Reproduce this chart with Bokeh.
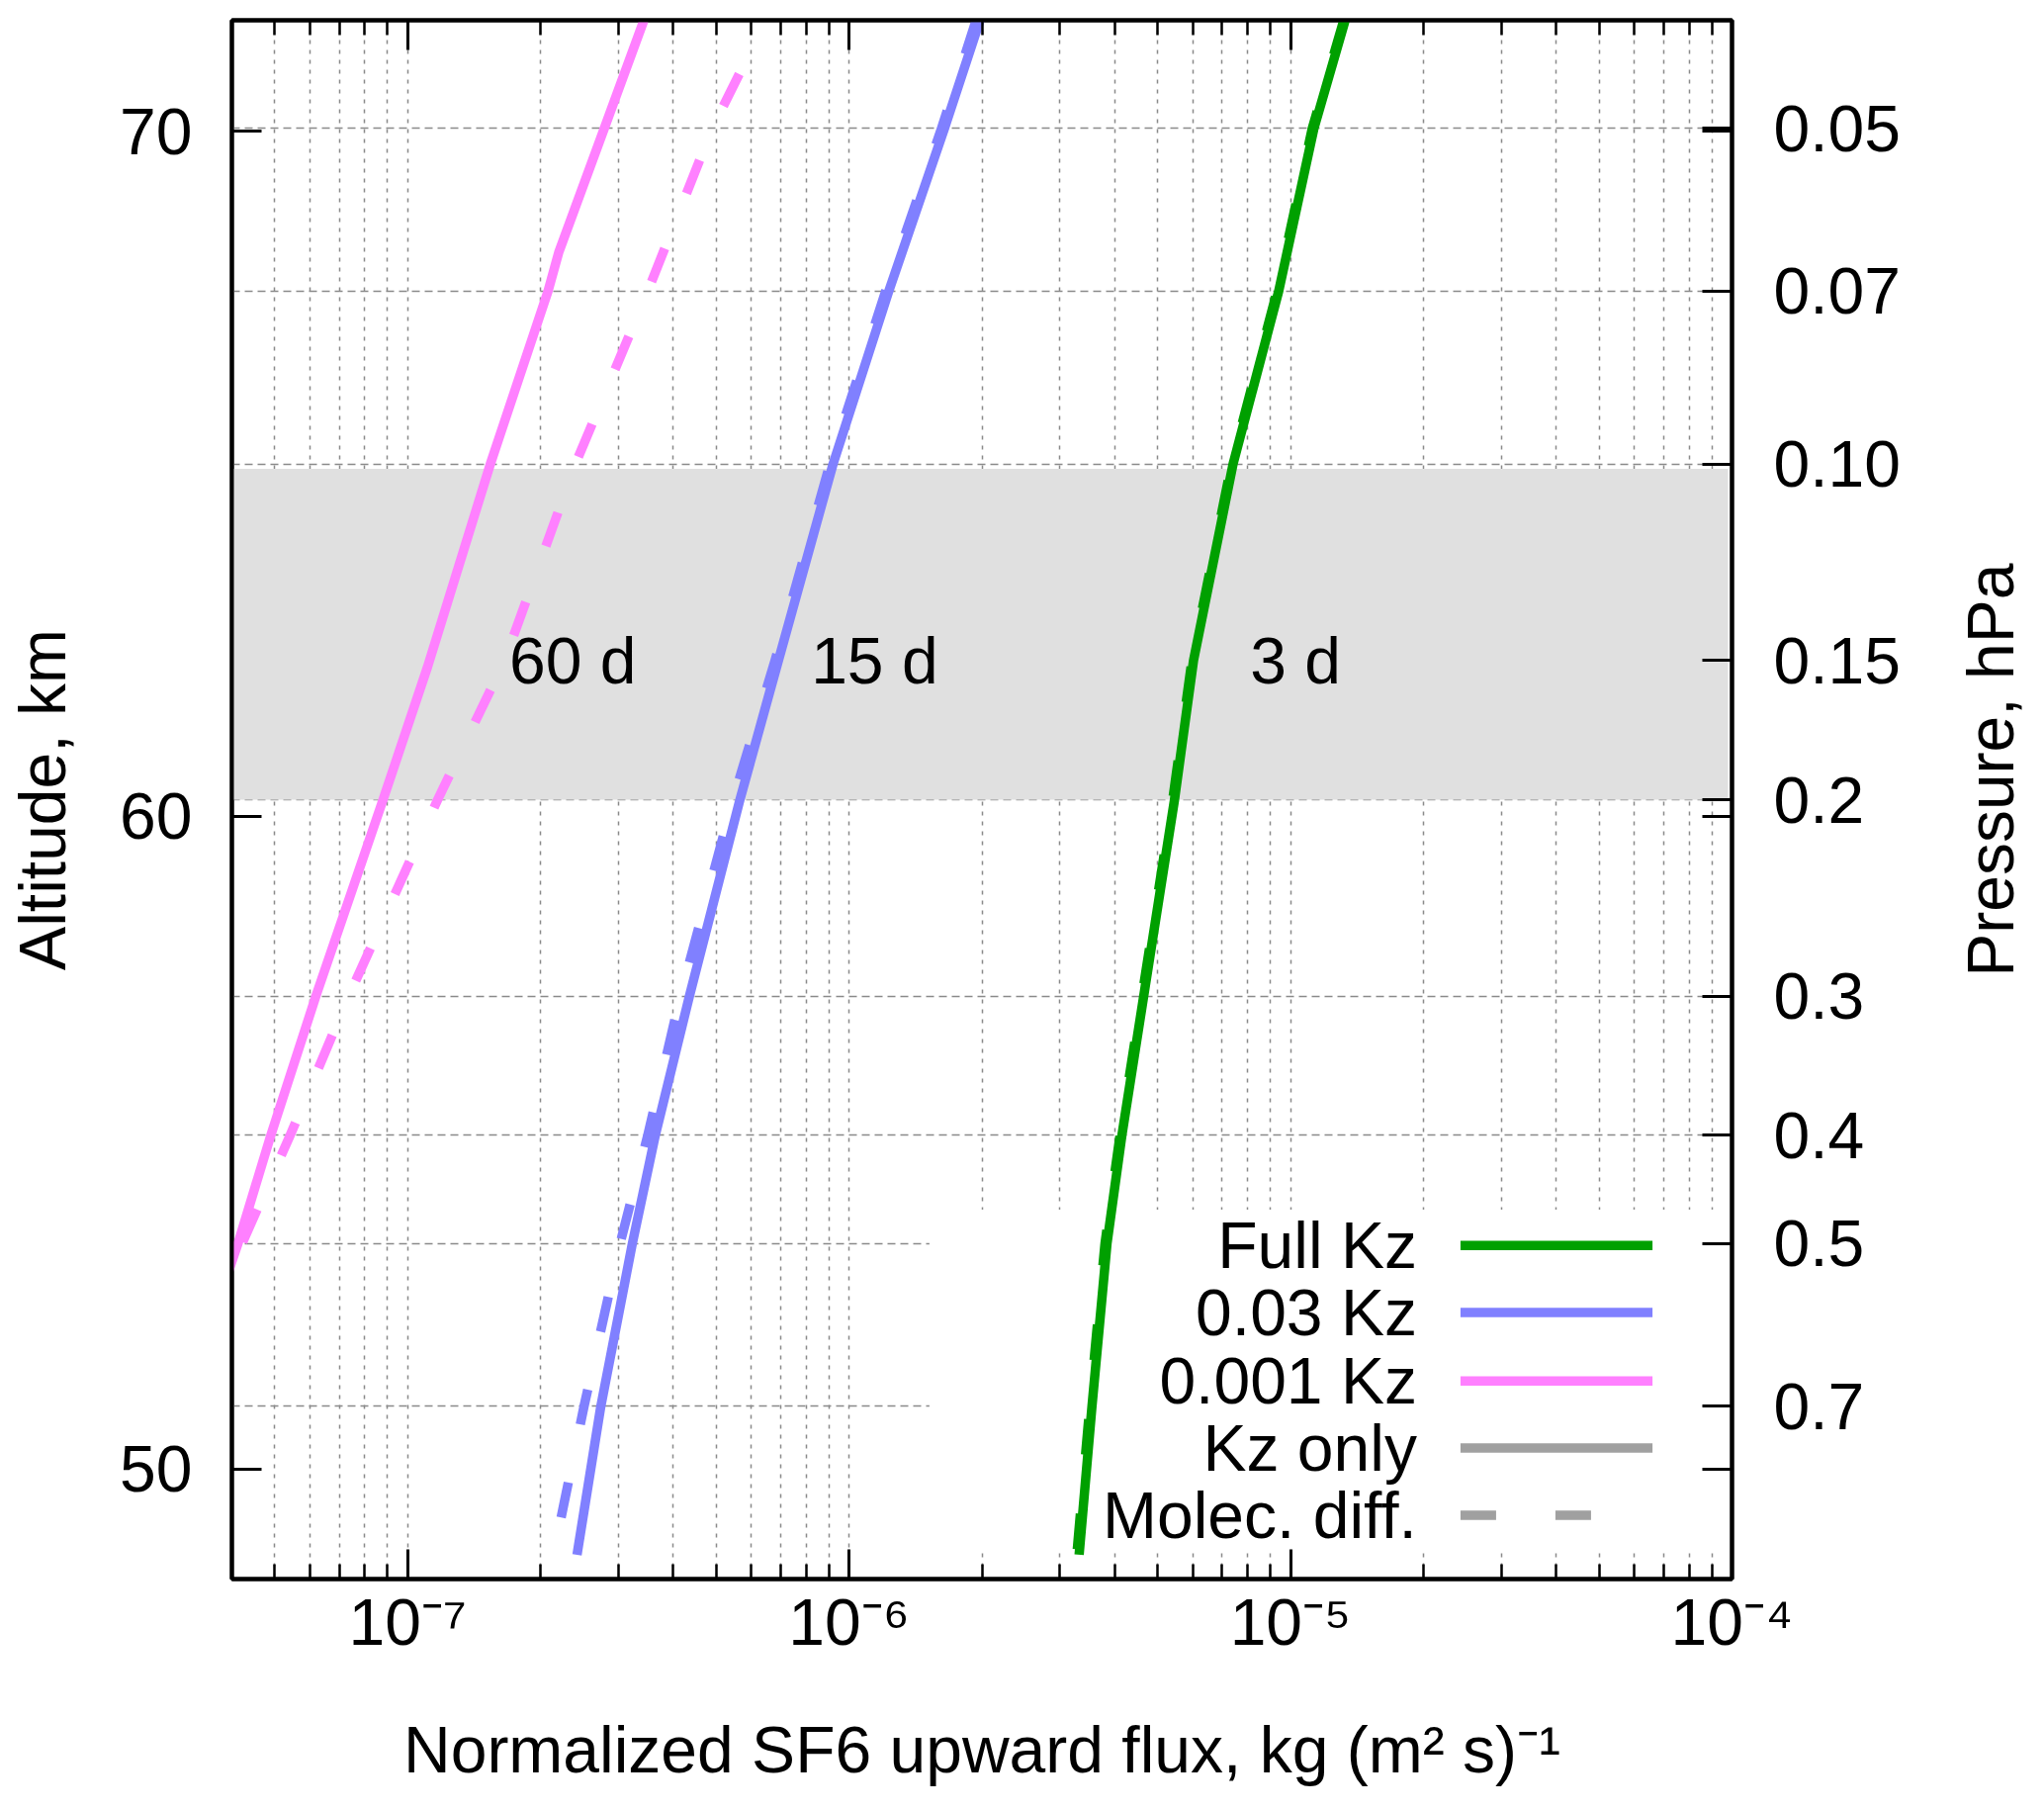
import math
from bokeh.plotting import figure
from bokeh.layouts import row
from bokeh.models import FixedTicker, LogAxis, Range1d, CustomJSTickFormatter
from bokeh.embed import file_html
from bokeh.resources import INLINE
from bokeh.core.properties import value

# ---------------- data ----------------
flux_ticks = [1e-7, 1e-6, 1e-5, 1e-4]
flux_tick_labels = ["10⁻⁷", "10⁻⁶", "10⁻⁵", "10⁻⁴"]
flux_minor_ticks = [k * 10.0 ** e for e in (-8, -7, -6, -5) for k in range(2, 10)]

pressure_ticks = [0.05, 0.07, 0.10, 0.15, 0.2, 0.3, 0.4, 0.5, 0.7]
pressure_tick_labels = ["0.05", "0.07", "0.10", "0.15", "0.2", "0.3", "0.4", "0.5", "0.7"]

altitude_tick_labels = ["70", "60", "50"]
altitude_tick_pressure = [0.0503, 0.207, 0.797]

# Full Kz (green)
green_p = [0.04, 0.05, 0.07, 0.10, 0.15, 0.2, 0.3, 0.4, 0.5, 0.7, 0.951]
green_kz_only = [1.33e-5, 1.13e-5, 9.40e-6, 7.41e-6, 6.03e-6, 5.46e-6, 4.65e-6, 4.15e-6, 3.84e-6, 3.55e-6, 3.32e-6]
green_molec = [1.32e-5, 1.12e-5, 9.32e-6, 7.35e-6, 5.98e-6, 5.41e-6, 4.61e-6, 4.11e-6, 3.80e-6, 3.51e-6, 3.28e-6]

# 0.03 Kz (blue)
blue_p = [0.04, 0.05, 0.07, 0.10, 0.15, 0.2, 0.3, 0.4, 0.5, 0.7, 0.951]
blue_kz_only = [1.98e-6, 1.645e-6, 1.23e-6, 9.2e-7, 6.92e-7, 5.66e-7, 4.35e-7, 3.64e-7, 3.23e-7, 2.74e-7, 2.42e-7]
blue_molec = [1.94e-6, 1.62e-6, 1.21e-6, 9.05e-7, 6.80e-7, 5.46e-7, 4.15e-7, 3.50e-7, 3.03e-7, 2.51e-7, 2.14e-7]

# 0.001 Kz (pink)
pink_kz_p = [0.04, 0.05, 0.0646, 0.07, 0.10, 0.152, 0.2, 0.3, 0.4, 0.5, 0.56]
pink_kz_only = [3.43e-7, 2.79e-7, 2.20e-7, 2.08e-7, 1.54e-7, 1.11e-7, 8.8e-8, 6.2e-8, 4.9e-8, 4.13e-8, 3.75e-8]
pink_molec_p = [0.0447, 0.05, 0.07, 0.10, 0.15, 0.2, 0.3, 0.4, 0.5, 0.56]
pink_molec = [5.64e-7, 4.90e-7, 3.50e-7, 2.40e-7, 1.66e-7, 1.17e-7, 7.36e-8, 5.42e-8, 4.22e-8, 3.80e-8]

# shaded layer and lifetime labels
band_pressure = [0.101, 0.2]
band_flux = [4e-8, 9.8e-5]
lifetime_labels = ["60 d", "15 d", "3 d"]
lifetime_flux = [1.70e-7, 8.2e-7, 8.1e-6]
lifetime_pressure = [0.15, 0.15, 0.15]

legend_labels = ["Full Kz", "0.03 Kz", "0.001 Kz", "Kz only", "Molec. diff."]

# ---------------- styles ----------------
GREEN, BLUE, PINK, GRAY = "#00a000", "#8080ff", "#ff80ff", "#a0a0a0"
FONT = "Liberation Sans"
FS = "66px"
LW = 9.5
DASH = "36 60"
H = 1825

XMIN, XMAX = 4e-8, 1e-4
PTOP, PBOT = 0.04, 1.0


def fx(f):
    return 10 ** (math.log10(XMIN) + f * (math.log10(XMAX) - math.log10(XMIN)))


def fy(f):
    return 10 ** (math.log10(PTOP) + f * (math.log10(PBOT) - math.log10(PTOP)))


def fmt(tvals, tlabels):
    return CustomJSTickFormatter(args=dict(tvals=list(tvals), tlabels=list(tlabels)), code="""
        for (let i = 0; i < tvals.length; i++) {
            if (Math.abs(Math.log10(tick) - Math.log10(tvals[i])) < 1e-6) return tlabels[i];
        }
        return "";
    """)


p = figure(width=1974, height=H, x_axis_type="log", y_axis_type="log",
           x_range=Range1d(XMIN, XMAX), y_range=Range1d(PBOT, PTOP),
           output_backend="svg", toolbar_location=None,
           min_border_left=234, min_border_right=223,
           min_border_top=20, min_border_bottom=229)
p.background_fill_color = "white"
p.border_fill_color = "white"
p.outline_line_color = "black"
p.outline_line_width = 4


def style_axis(ax):
    ax.major_tick_in = 30
    ax.major_tick_out = 0
    ax.minor_tick_in = 15
    ax.minor_tick_out = 0
    ax.major_tick_line_width = 3
    ax.minor_tick_line_width = 2.5
    ax.major_tick_line_color = "black"
    ax.minor_tick_line_color = "black"
    ax.axis_line_width = 4
    ax.axis_line_color = "black"
    ax.major_label_text_font = FONT
    ax.major_label_text_font_size = FS
    ax.major_label_text_color = "black"
    ax.axis_label_text_font = FONT
    ax.axis_label_text_font_size = FS
    ax.axis_label_text_font_style = "normal"
    ax.axis_label_text_color = "black"


x_ticker = FixedTicker(ticks=flux_ticks, minor_ticks=flux_minor_ticks)

# bottom axis
bx = p.xaxis[0]
bx.ticker = x_ticker
bx.formatter = fmt(flux_ticks, flux_tick_labels)
style_axis(bx)
bx.major_label_standoff = 6
bx.axis_label = "Normalized SF6 upward flux, kg (m² s)⁻¹"
bx.axis_label_standoff = 52

# top axis (mirror ticks)
tx = LogAxis(ticker=x_ticker, formatter=fmt([1.0], [""]))
style_axis(tx)
tx.major_label_text_font_size = "0px"
tx.major_label_standoff = 0
p.add_layout(tx, "above")

# left axis: altitude
ly = p.yaxis[0]
ly.ticker = FixedTicker(ticks=altitude_tick_pressure, minor_ticks=[])
ly.formatter = fmt(altitude_tick_pressure, altitude_tick_labels)
style_axis(ly)
ly.major_label_standoff = 40
ly.axis_label = "Altitude, km"
ly.axis_label_standoff = 38

# right axis: pressure (+ mirrored altitude ticks)
ry = LogAxis(ticker=FixedTicker(ticks=pressure_ticks + altitude_tick_pressure, minor_ticks=[]),
             formatter=fmt(pressure_ticks, pressure_tick_labels))
style_axis(ry)
ry.major_label_standoff = 42
p.add_layout(ry, "right")

# grids
p.xgrid.ticker = x_ticker
p.xgrid.grid_line_color = "#8a8a8a"
p.xgrid.grid_line_width = 1.5
p.xgrid.grid_line_dash = "4 6"
p.xgrid.minor_grid_line_color = "#8a8a8a"
p.xgrid.minor_grid_line_width = 1.5
p.xgrid.minor_grid_line_dash = "4 6"
p.ygrid.ticker = FixedTicker(ticks=pressure_ticks, minor_ticks=[])
p.ygrid.grid_line_color = "#8a8a8a"
p.ygrid.grid_line_width = 1.5
p.ygrid.grid_line_dash = "8 5"

# shaded band
p.quad(left=[band_flux[0]], right=[band_flux[1]], top=[band_pressure[0]], bottom=[band_pressure[1]],
       fill_color="#e0e0e0", line_color=None)

# legend background (white, covers grid)
p.quad(left=[fx(0.465)], right=[fx(0.996)], top=[fy(0.763)], bottom=[fy(0.981)],
       fill_color="white", line_color=None)

# curves
for xs, ys, col, dash in [
    (green_kz_only, green_p, GREEN, "solid"),
    (green_molec, green_p, GREEN, DASH),
    (blue_kz_only, blue_p, BLUE, "solid"),
    (blue_molec, blue_p, BLUE, DASH),
    (pink_kz_only, pink_kz_p, PINK, "solid"),
    (pink_molec, pink_molec_p, PINK, DASH),
]:
    p.line(x=xs, y=ys, line_color=col, line_width=LW, line_dash=dash, line_cap="butt", line_join="round")

# lifetime labels
p.text(x=lifetime_flux, y=lifetime_pressure, text=lifetime_labels,
       text_font=value(FONT), text_font_size=FS, text_color="black",
       text_align="left", text_baseline="middle")

# legend (gnuplot style: label right-aligned, sample on the right)
rows = [0.786, 0.829, 0.873, 0.916, 0.959]
p.text(x=[fx(0.790)] * len(rows), y=[fy(r) for r in rows], text=legend_labels,
       text_font=value(FONT), text_font_size=FS, text_color="black",
       text_align="right", text_baseline="middle")
sample_cols = [GREEN, BLUE, PINK, GRAY, GRAY]
sample_dash = ["solid", "solid", "solid", "solid", DASH]
for r, c, d in zip(rows, sample_cols, sample_dash):
    x1 = fx(0.819)
    x2 = fx(0.947) if d == "solid" else fx(0.908)
    p.line(x=[x1, x2], y=[fy(r), fy(r)], line_color=c, line_width=LW, line_dash=d, line_cap="butt")

# right-hand title strip ("Pressure, hPa", reading bottom-to-top)
SW = 92
side = figure(width=SW, height=H, x_range=Range1d(0, 1), y_range=Range1d(0, 1),
              output_backend="svg", toolbar_location=None,
              x_axis_location=None, y_axis_location=None,
              min_border=0, min_border_left=0, min_border_right=0,
              min_border_top=0, min_border_bottom=0)
side.outline_line_color = None
side.xgrid.visible = False
side.ygrid.visible = False
side.background_fill_color = "white"
side.border_fill_color = "white"
side.text(x=[38 / SW], y=[1 - 878 / H], text=["Pressure, hPa"], angle=math.pi / 2,
          text_font=value(FONT), text_font_size=FS, text_color="black",
          text_align="center", text_baseline="middle")

layout = row(p, side)
open("out.html", "w").write(file_html(layout, INLINE))
